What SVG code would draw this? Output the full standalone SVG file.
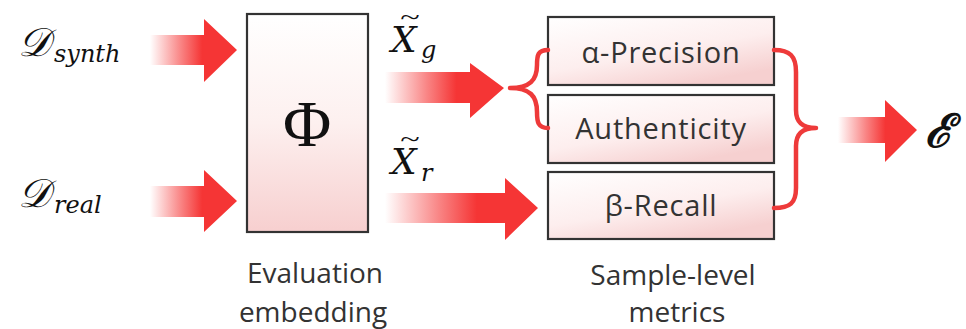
<svg xmlns="http://www.w3.org/2000/svg" width="966" height="329" viewBox="0 0 966 329">
<style>
.box{stroke:#333;stroke-width:2.2}
.lbl{font-family:"Open Sans","Liberation Sans",sans-serif;font-size:28px;fill:#333;text-anchor:middle}
.mlbl{font-family:"Open Sans","Liberation Sans",sans-serif;font-size:29px;fill:#333;text-anchor:middle;letter-spacing:0.8px}
.math{font-family:"Liberation Serif","DejaVu Serif",serif;fill:#111}
.it{font-family:"DejaVu Serif","Liberation Serif",serif;font-style:italic;fill:#111}
.brace{fill:none;stroke:#ee3a3a;stroke-width:4.5;stroke-linecap:round;stroke-linejoin:round}
.arrow{fill:url(#ag)}
</style>
<defs>
<linearGradient id="ag" x1="0" y1="0" x2="1" y2="0">
<stop offset="0" stop-color="#f53535" stop-opacity="0"/>
<stop offset="0.35" stop-color="#f53535" stop-opacity="0.6"/>
<stop offset="0.6" stop-color="#f53535" stop-opacity="1"/>
<stop offset="1" stop-color="#f53535" stop-opacity="1"/>
</linearGradient>
<linearGradient id="bg" x1="0" y1="0" x2="0" y2="1">
<stop offset="0" stop-color="#ffffff"/>
<stop offset="0.5" stop-color="#fdf0ef"/>
<stop offset="1" stop-color="#f7cfcf"/>
</linearGradient>
<linearGradient id="mg" x1="0" y1="0" x2="0.6" y2="1">
<stop offset="0" stop-color="#ffffff"/>
<stop offset="0.6" stop-color="#fdeeee"/>
<stop offset="1" stop-color="#f6d0d0"/>
</linearGradient>
</defs>

<g id="d-synth"><text class="math" x="18" y="56" font-size="40" font-style="italic">𝒟</text><text class="it" x="54" y="62" font-size="24">synth</text></g>
<g id="d-real"><text class="math" x="18" y="207" font-size="40" font-style="italic">𝒟</text><text class="it" x="54" y="213" font-size="24">real</text></g>

<g id="phi">
<rect class="box" x="247" y="14" width="121" height="218" fill="url(#bg)"/>
<text class="math" x="307" y="146" font-size="66" text-anchor="middle">Φ</text>
<text class="lbl" x="315" y="283">Evaluation</text>
<text class="lbl" x="313" y="322">embedding</text>
</g>

<g id="xg"><text class="it" x="391" y="52" font-size="36">X</text><text class="it" x="421" y="58" font-size="24">g</text><text class="math" x="0" y="0" font-size="24" text-anchor="middle" dominant-baseline="central" transform="translate(410,17) scale(1.5,1)">~</text></g>
<g id="xr"><text class="it" x="391" y="174" font-size="36">X</text><text class="it" x="421" y="181" font-size="24">r</text><text class="math" x="0" y="0" font-size="24" text-anchor="middle" dominant-baseline="central" transform="translate(410,139) scale(1.5,1)">~</text></g>

<g id="precision"><rect class="box" x="548" y="17" width="226" height="68" fill="url(#mg)"/><text class="mlbl" x="661" y="63">α-Precision</text></g>
<g id="authenticity"><rect class="box" x="548" y="95" width="226" height="68" fill="url(#mg)"/><text class="mlbl" x="661" y="139">Authenticity</text></g>
<g id="recall"><rect class="box" x="548" y="172" width="226" height="67" fill="url(#mg)"/><text class="mlbl" x="661" y="216">β-Recall</text></g>
<text class="lbl" x="673" y="285">Sample-level</text>
<text class="lbl" x="677" y="322">metrics</text>

<g id="epsilon"><text class="math" x="925" y="147" font-size="46" font-style="italic" font-weight="bold">ℰ</text></g>

<g id="connectors">
<path class="arrow" d="M150 35 H204 V19 L237 50 L204 82 V65 H150 Z"/>
<path class="arrow" d="M150 186 H204 V170 L237 201 L204 232 V217 H150 Z"/>
<path class="arrow" d="M385 72 H470 V63 L504 88 L470 118 V103 H385 Z"/>
<path class="arrow" d="M385 193 H505 V178 L538 208 L505 240 V223 H385 Z"/>
<path class="arrow" d="M838 117 H885 V100 L917 130 L885 162 V143 H838 Z"/>
<path class="brace" d="M548 50 C538 50 537 55 537 65 C537 80 530 88 510 88 C530 88 537 96 537 112 C537 122 538 128 548 128"/>
<path class="brace" d="M774 50 C790 50 796 56 796 72 V110 C796 122 802 128 816 128 C802 128 796 134 796 146 V188 C796 203 790 208 774 208"/>
</g>
</svg>
